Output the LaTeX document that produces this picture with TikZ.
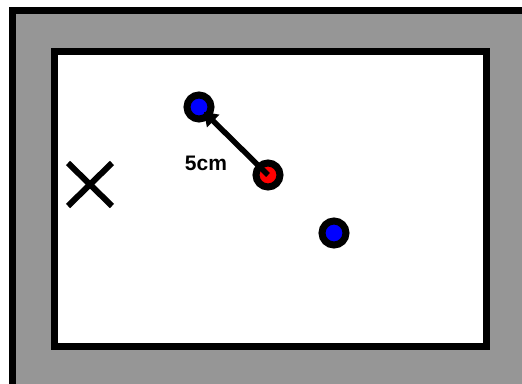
\documentclass[tikz,border=0pt]{standalone}
\usepackage{fontspec}
\setmainfont{Liberation Sans}
\usetikzlibrary{arrows.meta}
\definecolor{wallgray}{RGB}{150,150,150}
\definecolor{dotblue}{RGB}{0,0,255}
\definecolor{dotred}{RGB}{255,0,0}
\tikzset{dot/.style = {circle, draw = black, line width = 7pt,
                       minimum size = 24pt, inner sep = 0pt},
         wall/.style = {draw = black, line width = 7pt}}

\begin{document}
\begin{tikzpicture}[x = 1pt, y = -1pt]
      \useasboundingbox (0, 0) rectangle (522, 383);
      \clip (0, 0) rectangle (522, 383);
      \fill [white] (0, 0) rectangle (522, 383);
      \filldraw [wall, fill = wallgray] (12.5, 10.5) rectangle (540, 400);
      \filldraw [wall, fill = white] (54, 51.5) rectangle (486, 346.5);
      \node [dot, fill = dotblue] (b1) at (199, 107) {};
      \node [dot, fill = dotblue] (b2) at (334, 233) {};
      \node [dot, fill = dotred] (r) at (268, 175) {};
      \draw [line width = 5.5pt, -{Triangle[length = 13pt, width = 17pt]},
             shorten > = 7pt] (r.center) -- (b1.center);
      \node [font = \fontsize{21pt}{24pt}\selectfont\bfseries] (d) at (206, 163) {5cm};
      \draw [line width = 6pt] (68, 163) -- (112, 206);
      \draw [line width = 6pt] (68, 206) -- (112, 163);
\end{tikzpicture}
\end{document}
